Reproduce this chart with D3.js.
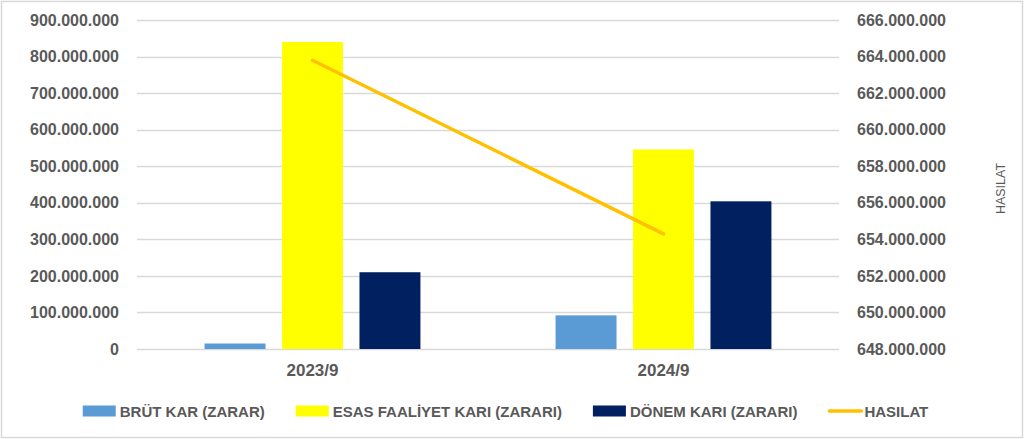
<!DOCTYPE html>
<html>
<head>
<meta charset="utf-8">
<script src="https://cdn.jsdelivr.net/npm/d3@7"></script>
<style>
  html, body { margin: 0; padding: 0; background: #fff; }
  svg { display: block; font-family: "Liberation Sans", Arial, sans-serif; }
</style>
</head>
<body>
<script>
// chart values
const categories = ['2023/9', '2024/9'];
const seriesNames = ['BRÜT KAR (ZARAR)', 'ESAS FAALİYET KARI (ZARARI)', 'DÖNEM KARI (ZARARI)'];
const brutKar = [15000000, 92000000];
const esasFaaliyet = [840000000, 546000000];
const donemKari = [210000000, 404000000];
const hasilat = [663800000, 654300000];
const lineName = 'HASILAT';
const leftTicks = [0, 100000000, 200000000, 300000000, 400000000, 500000000, 600000000, 700000000, 800000000, 900000000];
const rightTicks = [648000000, 650000000, 652000000, 654000000, 656000000, 658000000, 660000000, 662000000, 664000000, 666000000];

const barColors = ['#5B9BD5', '#FFFF00', '#002060'];
const lineColor = '#FFC000';
const textColor = '#595959';
const gridColor = '#D9D9D9';

const width = 1024;
const height = 439;
const margin = { top: 20, left: 137, right: 185, bottom: 90 };

const svg = d3.select('body')
    .append('svg')
    .attr('width', width)
    .attr('height', height);

// chart border
svg.append('rect')
    .attr('x', 1.5).attr('y', 1.5)
    .attr('width', width - 3).attr('height', height - 3)
    .attr('fill', '#fff')
    .attr('stroke', gridColor)
    .attr('stroke-width', 1.5);

const plotRight = width - margin.right;
const plotBottom = height - margin.bottom;

const scaleX = d3.scaleBand()
    .domain(categories)
    .range([margin.left, plotRight])
    .paddingInner(0.385)
    .paddingOuter(0.1925);

const scaleBar = d3.scaleBand()
    .domain(seriesNames)
    .range([0, scaleX.bandwidth()])
    .paddingInner(0.213);

const scaleY = d3.scaleLinear().domain([0, 900000000]).range([plotBottom, margin.top]);
const scaleY2 = d3.scaleLinear().domain([648000000, 666000000]).range([plotBottom, margin.top]);

const fmt = (v) => d3.format(',')(v).replace(/,/g, '.');

// gridlines
svg.append('g')
    .selectAll('line')
    .data(leftTicks)
    .enter()
    .append('line')
    .attr('x1', margin.left)
    .attr('x2', plotRight)
    .attr('y1', (d) => Math.round(scaleY(d)) + 0.5)
    .attr('y2', (d) => Math.round(scaleY(d)) + 0.5)
    .attr('stroke', gridColor)
    .attr('stroke-width', 1.3);

// left axis
const axisLeft = svg.append('g')
    .attr('transform', `translate(${margin.left - 18},0)`)
    .call(d3.axisLeft(scaleY).tickValues(leftTicks).tickFormat(fmt).tickSize(0).tickPadding(0));
axisLeft.select('.domain').remove();
axisLeft.selectAll('text')
    .attr('fill', textColor)
    .attr('font-size', 16)
    .attr('font-weight', 'bold')
    .attr('font-family', '"Liberation Sans", Arial, sans-serif');

// right axis
const axisRight = svg.append('g')
    .attr('transform', `translate(${plotRight + 18},0)`)
    .call(d3.axisRight(scaleY2).tickValues(rightTicks).tickFormat(fmt).tickSize(0).tickPadding(0));
axisRight.select('.domain').remove();
axisRight.selectAll('text')
    .attr('fill', textColor)
    .attr('font-size', 16)
    .attr('font-weight', 'bold')
    .attr('font-family', '"Liberation Sans", Arial, sans-serif');

// right axis title
svg.append('text')
    .attr('transform', `translate(1005,${(margin.top + plotBottom) / 2 + 4}) rotate(-90)`)
    .attr('text-anchor', 'middle')
    .attr('fill', textColor)
    .attr('font-size', 12.5)
    .text(lineName);

// category labels
const xAxis = svg.append('g')
    .attr('transform', `translate(0,${plotBottom + 15})`)
    .call(d3.axisBottom(scaleX).tickSize(0).tickPadding(0));
xAxis.select('.domain').remove();
xAxis.selectAll('text')
    .attr('fill', textColor)
    .attr('font-size', 17)
    .attr('font-weight', 'bold')
    .attr('font-family', '"Liberation Sans", Arial, sans-serif');

// bars
const seriesValues = [brutKar, esasFaaliyet, donemKari];
svg.append('g')
    .selectAll('g')
    .data(categories)
    .enter()
    .append('g')
    .attr('transform', (cat) => `translate(${scaleX(cat)},0)`)
    .selectAll('rect')
    .data((cat, i) => seriesNames.map((name, s) => ({ name, s, value: seriesValues[s][i] })))
    .enter()
    .append('rect')
    .attr('x', (d) => scaleBar(d.name))
    .attr('y', (d) => scaleY(d.value))
    .attr('width', scaleBar.bandwidth())
    .attr('height', (d) => plotBottom - scaleY(d.value))
    .attr('fill', (d) => barColors[d.s]);

// revenue line
const line = d3.line()
    .x((d, i) => scaleX(categories[i]) + scaleX.bandwidth() / 2)
    .y((d) => scaleY2(d));
svg.append('path')
    .datum(hasilat)
    .attr('d', line)
    .attr('fill', 'none')
    .attr('stroke', lineColor)
    .attr('stroke-width', 3.5)
    .attr('stroke-linecap', 'round');

// legend
const legendItems = seriesNames.map((name, i) => ({ name, color: barColors[i], type: 'bar' }))
    .concat([{ name: lineName, color: lineColor, type: 'line' }]);
const legendY = 411;
const legend = svg.append('g');
let cursor = 0;
legendItems.forEach((item, i) => {
    const g = legend.append('g').attr('transform', `translate(${cursor},0)`);
    if (item.type === 'bar') {
        g.append('rect')
            .attr('x', 0).attr('y', legendY - 5.5)
            .attr('width', 33).attr('height', 11)
            .attr('fill', item.color);
    } else {
        g.append('line')
            .attr('x1', 1).attr('x2', 33)
            .attr('y1', legendY).attr('y2', legendY)
            .attr('stroke', item.color)
            .attr('stroke-width', 3.5)
            .attr('stroke-linecap', 'round');
    }
    const t = g.append('text')
        .attr('x', item.type === 'bar' ? 37 : 36)
        .attr('y', legendY + 5.5)
        .attr('fill', textColor)
        .attr('font-size', 15)
        .attr('font-weight', 'bold')
        .text(item.name);
    cursor += (item.type === 'bar' ? 37 : 36) + t.node().getComputedTextLength() + 31;
});
const legendWidth = cursor - 31;
legend.attr('transform', `translate(${505.5 - legendWidth / 2},0)`);
</script>
</body>
</html>
